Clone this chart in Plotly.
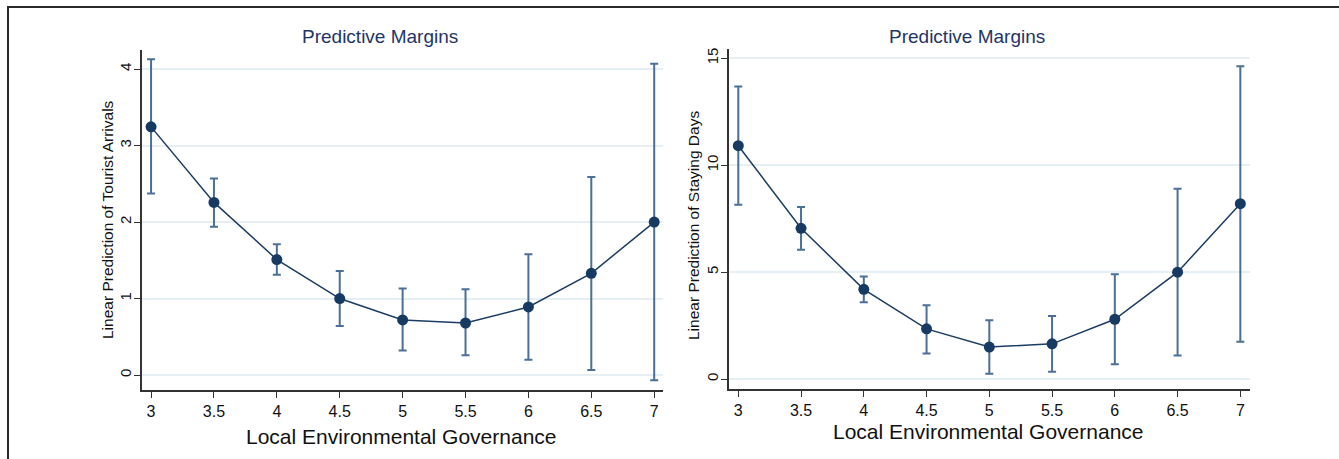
import plotly.graph_objects as go

W, H = 1339, 459

x_levels = [3, 3.5, 4, 4.5, 5, 5.5, 6, 6.5, 7]
x_ticklabels = ["3", "3.5", "4", "4.5", "5", "5.5", "6", "6.5", "7"]

arrivals = [3.245, 2.257, 1.51, 1.0, 0.72, 0.68, 0.89, 1.33, 2.0]
arrivals_lo = [2.375, 1.94, 1.31, 0.64, 0.32, 0.26, 0.20, 0.065, -0.07]
arrivals_hi = [4.13, 2.57, 1.71, 1.36, 1.13, 1.12, 1.58, 2.59, 4.07]

days = [10.91, 7.05, 4.2, 2.35, 1.5, 1.65, 2.8, 5.0, 8.2]
days_lo = [8.15, 6.05, 3.6, 1.2, 0.25, 0.35, 0.7, 1.1, 1.75]
days_hi = [13.68, 8.05, 4.8, 3.45, 2.75, 2.95, 4.9, 8.9, 14.62]

y1_ticks = [0, 1, 2, 3, 4]
y2_ticks = [0, 5, 10, 15]

title_text = "Predictive Margins"
xtitle_text = "Local Environmental Governance"
y1_title = "Linear Prediction of Tourist Arrivals"
y2_title = "Linear Prediction of Staying Days"

LINE = "#1c3c64"
MARK = "#173a63"
ERR = "#4a6f98"
GRID = "#e6eff3"
AX = "#333333"
TXT = "#111111"
TITLE_C = "#1f3566"

fig = go.Figure()

def add_panel(y, lo, hi, xa, ya):
    fig.add_trace(go.Scatter(
        x=x_levels, y=y, xaxis=xa, yaxis=ya, mode="lines+markers",
        line=dict(color=LINE, width=1.5),
        marker=dict(color=MARK, size=11),
        error_y=dict(type="data", symmetric=False,
                     array=[h - v for h, v in zip(hi, y)],
                     arrayminus=[v - l for v, l in zip(y, lo)],
                     color=ERR, thickness=2, width=4),
        showlegend=False, hoverinfo="skip"))

add_panel(arrivals, arrivals_lo, arrivals_hi, "x", "y")
add_panel(days, days_lo, days_hi, "x2", "y2")

def px_x(a, b):
    return [a / W, b / W]

def px_y(top, bottom):
    return [1 - bottom / H, 1 - top / H]

xcommon = dict(
    tickmode="array", tickvals=x_levels, ticktext=x_ticklabels,
    showline=True, linecolor=AX, linewidth=1.5, ticks="outside",
    ticklen=6, tickcolor=AX, tickwidth=1.2, showgrid=False, zeroline=False,
    tickfont=dict(family="Liberation Sans, Arial", size=16, color=TXT),
)
ycommon = dict(
    showline=True, linecolor=AX, linewidth=1.5, ticks="outside",
    ticklen=6, tickcolor=AX, tickwidth=1.2, showgrid=True, gridcolor=GRID,
    gridwidth=1.5, zeroline=False, tickangle=-90, ticklabelstandoff=-3,
    tickfont=dict(family="Liberation Sans, Arial", size=15, color=TXT),
)

fig.update_layout(
    width=W, height=H, margin=dict(l=0, r=0, t=0, b=0),
    paper_bgcolor="white", plot_bgcolor="white",
    xaxis=dict(domain=px_x(142, 663), range=[2.928, 7.07], anchor="y", **xcommon),
    yaxis=dict(domain=px_y(50, 390), range=[-0.196, 4.25], anchor="x",
               tickvals=y1_ticks, **ycommon),
    xaxis2=dict(domain=px_x(729, 1250), range=[2.926, 7.077], anchor="y2", **xcommon),
    yaxis2=dict(domain=px_y(49, 389), range=[-0.46, 15.43], anchor="x2",
                tickvals=y2_ticks, **ycommon),
)

ann = []
narrow = "Liberation Sans Narrow, Arial Narrow, Liberation Sans"
for cx, cy in [(380, 37), (967, 37)]:
    ann.append(dict(text=title_text, x=cx / W, y=1 - cy / H, xref="paper", yref="paper",
                    showarrow=False, xanchor="center", yanchor="middle",
                    font=dict(family=narrow, size=19, color=TITLE_C)))
for cx, cy in [(401, 436), (988, 431)]:
    ann.append(dict(text=xtitle_text, x=cx / W, y=1 - cy / H, xref="paper", yref="paper",
                    showarrow=False, xanchor="center", yanchor="middle",
                    font=dict(family=narrow, size=21, color=TXT)))
for cx, cy, t in [(107, 220, y1_title), (694, 226, y2_title)]:
    ann.append(dict(text=t, x=cx / W, y=1 - cy / H, xref="paper", yref="paper",
                    showarrow=False, xanchor="center", yanchor="middle", textangle=-90,
                    font=dict(family="Liberation Sans, Arial", size=15.5, color=TXT)))
fig.update_layout(annotations=ann)

fig.add_shape(type="path", xref="paper", yref="paper",
              path=f"M {8/W} 0 L {8/W} {1-7/H} L 1 {1-7/H}",
              line=dict(color="#2a2a2a", width=2))

fig.write_html("out.html", config={"displayModeBar": False},
               post_script="document.body.style.margin='0';document.body.style.overflow='hidden';")
